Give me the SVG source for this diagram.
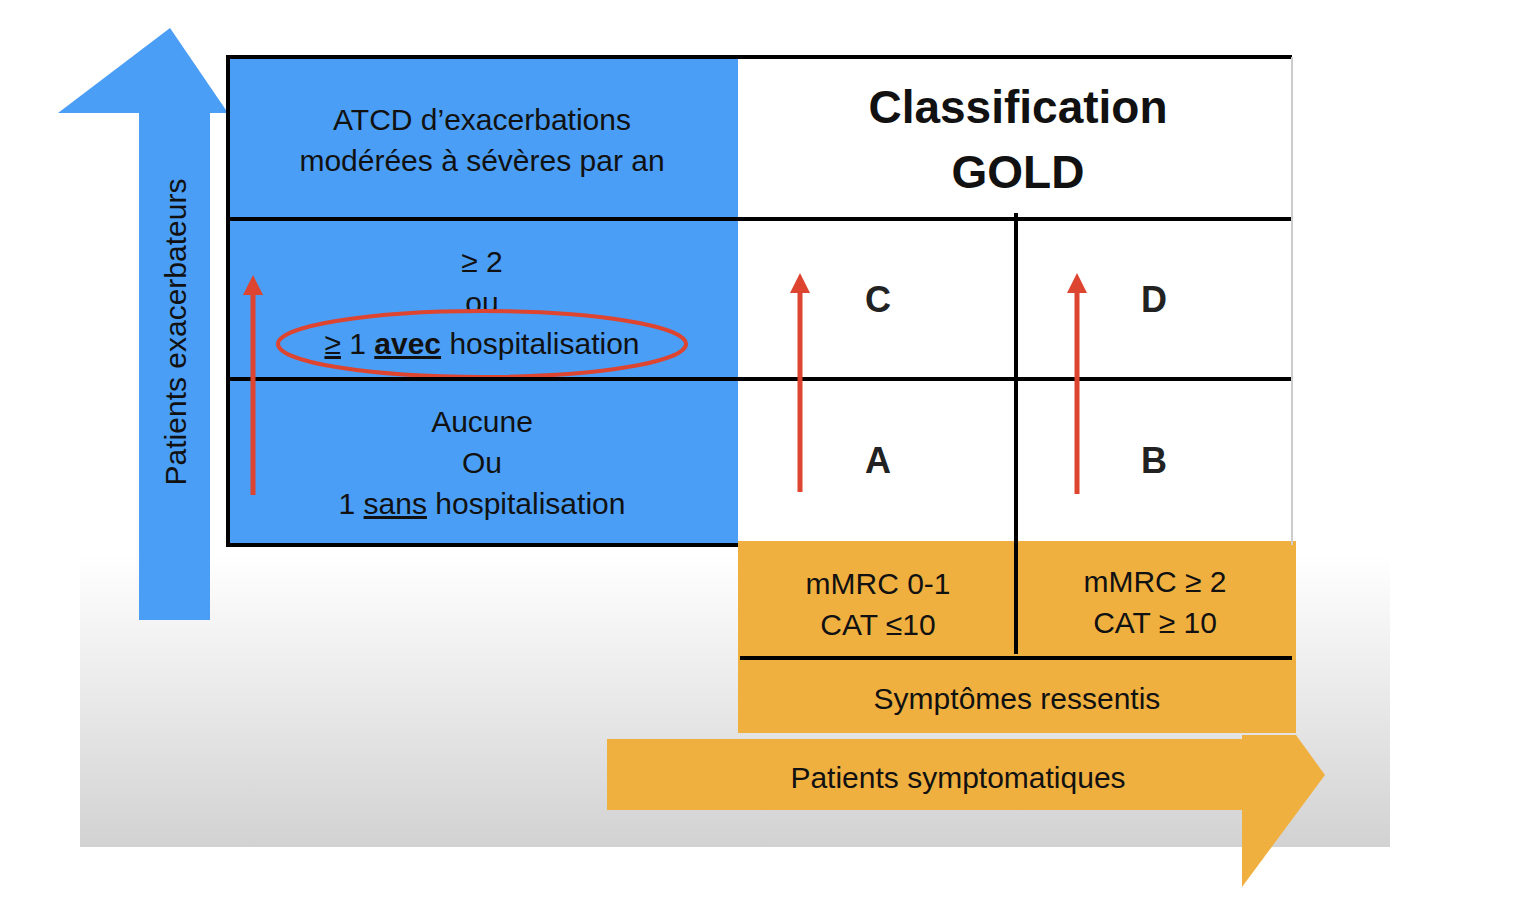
<svg xmlns="http://www.w3.org/2000/svg" width="1528" height="912" viewBox="0 0 1528 912">
<defs>
<linearGradient id="bg" x1="0" y1="0" x2="0" y2="1"><stop offset="0" stop-color="#ffffff"/><stop offset="1" stop-color="#d2d2d2"/></linearGradient>
<marker id="ra" viewBox="0 0 10 10" refX="5" refY="5" markerWidth="4" markerHeight="4" orient="auto"><path d="M0,0 L10,5 L0,10 z" fill="#de4530"/></marker>
<style>
text{font-family:"Liberation Sans",Arial,sans-serif;font-size:30px;fill:#111;text-anchor:middle}
.b{font-weight:bold}
.ln{stroke:#000;stroke-width:4;fill:none}
.red{stroke:#de4530;stroke-width:5;fill:none;marker-end:url(#ra)}
.or{fill:#f0b040}
</style>
</defs>
<rect width="1528" height="912" fill="#fff"/>
<rect x="80" y="555" width="1310" height="292" fill="url(#bg)"/>
<g id="yaxis">
<rect x="139" y="110" width="71" height="510" fill="#4a9ef5"/>
<polygon points="58,113 228,113 170,28" fill="#4a9ef5"/>
<text transform="translate(186,332) rotate(-90)">Patients exacerbateurs</text>
</g>
<g id="leftcol">
<rect x="228" y="57" width="510" height="488" fill="#4a9ef5"/>
<text x="482" y="130">ATCD d’exacerbations</text>
<text x="482" y="171">modérées à sévères par an</text>
<text x="482" y="272">≥ 2</text>
<text x="482" y="313">ou</text>
<text x="482" y="354"><tspan text-decoration="underline">≥</tspan> 1 <tspan class="b" text-decoration="underline">avec</tspan> hospitalisation</text>
<text x="482" y="432">Aucune</text>
<text x="482" y="473">Ou</text>
<text x="482" y="514">1 <tspan text-decoration="underline">sans</tspan> hospitalisation</text>
<ellipse cx="482" cy="344" rx="204" ry="33" fill="none" stroke="#de4530" stroke-width="4"/>
</g>
<g id="title"><text class="b" x="1018" y="123" style="font-size:46px">Classification</text><text class="b" x="1018" y="188" style="font-size:46px">GOLD</text></g>
<g id="cells">
<text class="b" x="878" y="312" style="font-size:36px;fill:#222">C</text>
<text class="b" x="1154" y="312" style="font-size:36px;fill:#222">D</text>
<text class="b" x="878" y="473" style="font-size:36px;fill:#222">A</text>
<text class="b" x="1154" y="473" style="font-size:36px;fill:#222">B</text>
</g>
<g id="symptoms">
<rect class="or" x="738" y="541" width="558" height="192"/>
<text x="878" y="594">mMRC 0-1</text><text x="878" y="635">CAT ≤10</text>
<text x="1155" y="592">mMRC ≥ 2</text><text x="1155" y="633">CAT ≥ 10</text>
<text x="1017" y="709">Symptômes ressentis</text>
</g>
<g id="xaxis">
<rect class="or" x="607" y="739" width="637" height="71"/>
<polygon class="or" points="1242,735 1296,735 1325,775 1242,887"/>
<text x="958" y="788">Patients symptomatiques</text>
</g>
<g id="connectors">
<path class="ln" d="M228,57 H1292 M228,219 H1292 M228,379 H1292 M228,545 H738 M228,55 V547 M1016,213 V654 M740,658 H1292"/>
<path d="M1292,57 V545" stroke="#ccc" stroke-width="2"/>
<path class="red" d="M253,495 V285"/>
<path class="red" d="M800,492 V283"/>
<path class="red" d="M1077,494 V283"/>
</g>
</svg>
